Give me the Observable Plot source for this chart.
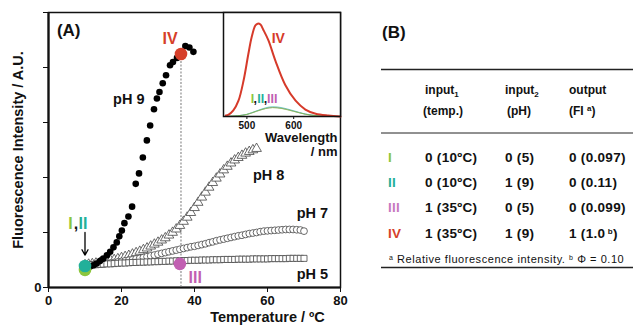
<!DOCTYPE html>
<html><head><meta charset="utf-8">
<script src="https://cdn.jsdelivr.net/npm/d3@7"></script>
<script src="https://cdn.jsdelivr.net/npm/@observablehq/plot@0.6"></script>
<style>
body{margin:0;background:#fff;}
#wrap{position:relative;width:633px;height:327px;font-family:"Liberation Sans",Arial,sans-serif;overflow:hidden;}
#wrap svg{overflow:visible;}
</style></head><body><div id="wrap"></div>
<script>
// ---------- DATA ----------
// pH 9 (filled circles)
const T9 = [10.3,11.4,12.3,13.2,14.1,15.0,16.0,16.9,17.8,18.7,19.4,20.1,20.8,21.9,22.9,23.9,24.8,25.85,26.95,27.85,28.9,29.7,30.4,31.3,32.2,33.3,34.1,35.2,36.3,37.5,38.6,39.7];
const V9 = [0.078,0.076,0.081,0.087,0.096,0.105,0.117,0.130,0.146,0.164,0.186,0.207,0.234,0.258,0.294,0.377,0.415,0.473,0.535,0.589,0.648,0.687,0.711,0.743,0.772,0.808,0.820,0.835,0.849,0.878,0.873,0.857];
// pH 8 (open triangles)
const T8 = [10,11,12,13,14,15,16,17,18,19,20,21,22,23,24,25,26,27,28,29,30,31,32,33,34,35,36,37,38,39,40,41,42,43,44,45,46,47,48,49,50,51,52,53,54,55,56,57];
const V8 = [0.082,0.084,0.086,0.088,0.090,0.092,0.095,0.098,0.101,0.104,0.108,0.112,0.116,0.121,0.126,0.131,0.137,0.143,0.150,0.157,0.164,0.172,0.180,0.190,0.200,0.212,0.225,0.240,0.255,0.272,0.290,0.309,0.328,0.346,0.364,0.381,0.397,0.412,0.427,0.440,0.452,0.463,0.472,0.480,0.488,0.494,0.500,0.505];
// pH 7 (open circles)
const T7 = [10,11,12,13,14,15,16,17,18,19,20,21,22,23,24,25,26,27,28,29,30,31,32,33,34,35,36,37,38,39,40,41,42,43,44,45,46,47,48,49,50,51,52,53,54,55,56,57,58,59,60,61,62,63,64,65,66,67,68,69,70];
const V7 = [0.082,0.082,0.083,0.084,0.085,0.086,0.088,0.089,0.091,0.093,0.095,0.097,0.099,0.101,0.104,0.106,0.109,0.112,0.115,0.118,0.121,0.124,0.127,0.130,0.133,0.136,0.139,0.142,0.145,0.148,0.150,0.153,0.156,0.159,0.163,0.166,0.170,0.173,0.176,0.179,0.182,0.185,0.188,0.190,0.193,0.196,0.198,0.200,0.203,0.205,0.206,0.207,0.208,0.209,0.210,0.211,0.211,0.211,0.210,0.209,0.205];
// pH 5 (open squares)
const T5 = [10,11,12,13,14,15,16,17,18,19,20,21,22,23,24,25,26,27,28,29,30,31,32,33,34,35,36,37,38,39,40,41,42,43,44,45,46,47,48,49,50,51,52,53,54,55,56,57,58,59,60,61,62,63,64,65,66,67,68,69,70];
const V5 = [0.080,0.081,0.082,0.083,0.084,0.085,0.086,0.086,0.087,0.088,0.089,0.089,0.090,0.091,0.091,0.092,0.092,0.093,0.093,0.094,0.094,0.095,0.095,0.096,0.096,0.097,0.097,0.098,0.098,0.099,0.099,0.099,0.100,0.100,0.100,0.101,0.101,0.101,0.102,0.102,0.102,0.102,0.103,0.103,0.103,0.103,0.104,0.104,0.104,0.104,0.104,0.105,0.105,0.105,0.105,0.105,0.106,0.106,0.106,0.106,0.106];
// logic states I..IV on the main chart
const stateNames = ["I","II","III","IV"];
const stateT = [10,10,36,36.3];
const stateV = [0.064,0.078,0.086,0.849];
const stateColors = ["#8cc63e","#22b09a","#c15fb2","#d63f2a"];
// axes ticks
const xTicks = [0,20,40,60,80];
const yTicks = [0,0.2,0.4,0.6,0.8,1.0];
// inset emission spectra
const wlIV = [455,461,471,482,493,503,510,518,523,529,535,546,561,582,604,625,647,674,700];
const fIV  = [0.01,0.02,0.065,0.17,0.39,0.67,0.85,0.98,1.0,0.99,0.935,0.82,0.6,0.34,0.17,0.075,0.03,0.01,0.0];
const wlSmall = [455,480,500,520,540,555,575,600,625,650,680,700];
const fI   = [0.002,0.008,0.022,0.055,0.085,0.095,0.085,0.055,0.024,0.008,0.002,0.0];
const fII  = [0.002,0.008,0.024,0.060,0.094,0.106,0.095,0.062,0.027,0.009,0.002,0.0];
const fIII = [0.002,0.008,0.022,0.056,0.087,0.097,0.088,0.057,0.025,0.008,0.002,0.0];
const insetTicks = [500,600];
// table
const tableRows = ["I","II","III","IV"];
const input1 = ["0 (10ºC)","0 (10ºC)","1 (35ºC)","1 (35ºC)"];
const input2 = ["0 (5)","1 (9)","0 (5)","1 (9)"];
const outputFI = ["0 (0.097)","0 (0.11)","0 (0.099)","1 (1.0"];
const tableColors = ["#8cc63e","#22b09a","#c77ac0","#d63f2a"];

// ---------- BUILD ----------
const zip = (a,b) => a.map((x,i)=>({x, y:b[i]}));
const d9 = zip(T9,V9), d8 = zip(T8,V8), d7 = zip(T7,V7), d5 = zip(T5,V5);
const states = stateNames.map((n,i)=>({n, x:stateT[i], y:stateV[i], c:stateColors[i]}));
const FONT = '"Liberation Sans", Arial, sans-serif';

const main = Plot.plot({
  width: 633, height: 327,
  marginLeft: 48, marginRight: 293, marginTop: 12, marginBottom: 40,
  x: {domain:[0,80], ticks: xTicks, tickFormat: d=>String(d), tickSize: 5, tickPadding: 3, label: null},
  y: {domain:[0,1], ticks: yTicks, tickFormat: d => d===0 ? "0" : "", tickSize: 5, tickPadding: 2, label: null},
  style: {fontFamily: FONT, fontSize: "13px", fontWeight: "bold", color:"#111", background:"transparent", overflow:"visible"},
  marks: [
    Plot.frame({stroke:"#111", strokeWidth:1.5}),
    Plot.ruleX([0], {stroke:"#111", strokeWidth:2.2}),
    Plot.ruleY([0], {stroke:"#111", strokeWidth:2.2}),
    Plot.ruleX([states[3]], {x:"x", y1:0, y2:"y", stroke:"#777", strokeWidth:1, strokeDasharray:"2,1.5"}),
    Plot.dot(d8, {x:"x", y:"y", symbol:"triangle", r:3.6, stroke:"#444", fill:"white", strokeWidth:0.8}),
    Plot.dot(d7, {x:"x", y:"y", symbol:"circle", r:3.4, stroke:"#444", fill:"white", strokeWidth:0.8}),
    Plot.dot(d5, {x:"x", y:"y", symbol:"square", r:3.4, stroke:"#444", fill:"white", strokeWidth:0.8}),
    Plot.dot(d9, {x:"x", y:"y", r:3.3, fill:"#000", stroke:"none"}),
    Plot.dot(states, {x:"x", y:"y", r:6.3, fill:"c", stroke:"none"}),
    Plot.arrow([{x1:10,y1:0.2,x2:10,y2:0.118}], {x1:"x1",y1:"y1",x2:"x2",y2:"y2", stroke:"#000", strokeWidth:1.3, headLength:7, inset:0}),
    // labels
    Plot.text([{t:"(A)", x:2.3, y:0.935}], {x:"x", y:"y", text:"t", textAnchor:"start", fontSize:17, fontWeight:"bold", fill:"#111"}),
    Plot.text([{t:"pH 9",x:22,y:0.684},{t:"pH 8",x:60.3,y:0.407},{t:"pH 7",x:72.3,y:0.268},{t:"pH 5",x:72.3,y:0.049}],
      {x:"x", y:"y", text:"t", fontSize:14.5, fontWeight:"bold", fill:"#111"}),
    Plot.text([{t:"IV",x:33.3,y:0.903,c:stateColors[3]},{t:"III",x:40.2,y:0.035,c:stateColors[2]}],
      {x:"x", y:"y", text:"t", fill:"c", fontSize:16, fontWeight:"bold"}),
    Plot.text([{t:"I",x:5.4,c:stateColors[0]},{t:",",x:6.9,c:"#111"},{t:"II",x:8.2,c:stateColors[1]}],
      {x:"x", y:()=>0.232, text:"t", fill:"c", textAnchor:"start", fontSize:16, fontWeight:"bold"}),
    Plot.text([{t:"Fluorescence Intensity / A.U."}], {text:"t", frameAnchor:"left", textAnchor:"middle", lineAnchor:"middle", rotate:-90, dx:-30, fontSize:14.5, fontWeight:"bold", fill:"#111"}),
    Plot.text([{t:"Temperature / ºC", x:60}], {x:"x", text:"t", frameAnchor:"bottom", lineAnchor:"middle", dy:30, fontSize:14.5, fontWeight:"bold", fill:"#111"})
  ]
});
main.style.position = "absolute"; main.style.left = "0px"; main.style.top = "0px";
document.getElementById("wrap").appendChild(main);

// inset
const lineIV = zip(wlIV, fIV), lI = zip(wlSmall,fI), lII = zip(wlSmall,fII), lIII = zip(wlSmall,fIII);
const inset = Plot.plot({
  width: 119, height: 145, marginLeft:1, marginRight:1, marginTop:1, marginBottom:40,
  x: {domain:[450,700]}, y: {domain:[0,1.12], axis:null},
  style: {fontFamily: FONT, fontWeight:"bold", color:"#111", background:"transparent", overflow:"visible"},
  marks: [
    Plot.frame({fill:"white", stroke:null}),
    Plot.line(lIII, {x:"x", y:"y", stroke:"#9a8fb8", strokeWidth:1, curve:"catmull-rom"}),
    Plot.line(lII, {x:"x", y:"y", stroke:"#22b09a", strokeWidth:0.8, curve:"catmull-rom", strokeOpacity:0.7}),
    Plot.line(lI, {x:"x", y:"y", stroke:"#8cc63e", strokeWidth:0.9, curve:"catmull-rom", strokeOpacity:0.8}),
    Plot.line(lineIV, {x:"x", y:"y", stroke:"#d63a2a", strokeWidth:2, curve:"catmull-rom"}),
    Plot.frame({stroke:"#111", strokeWidth:1.5}),
    Plot.axisX({ticks: insetTicks, tickSize:3, tickPadding:2, fontSize:10, fontWeight:"bold", label:null}),
    Plot.text([{t:"IV", x:567, y:0.84}], {x:"x", y:"y", text:"t", fill:"#d63a2a", fontSize:14, fontWeight:"bold"}),
    Plot.text([{t:"I",x:508,c:stateColors[0]},{t:",",x:514,c:"#111"},{t:"II",x:522,c:stateColors[1]},{t:",",x:536,c:"#111"},{t:"III",x:543,c:stateColors[2]}],
      {x:"x", y:()=>0.19, text:"t", fill:"c", textAnchor:"start", fontSize:12.5, fontWeight:"bold"}),
    Plot.text([{t:"Wavelength"}], {text:"t", frameAnchor:"bottom-right", textAnchor:"end", lineAnchor:"middle", dx:-3, dy:21, fontSize:13, fontWeight:"bold", fill:"#111"}),
    Plot.text([{t:"/ nm"}], {text:"t", frameAnchor:"bottom-right", textAnchor:"end", lineAnchor:"middle", dx:-3, dy:35, fontSize:13, fontWeight:"bold", fill:"#111"})
  ]
});
inset.style.position = "absolute"; inset.style.left = "222px"; inset.style.top = "11px";
document.getElementById("wrap").appendChild(inset);

// table (B)
const svg = d3.select("#wrap").append("svg")
  .attr("width",633).attr("height",327)
  .style("position","absolute").style("left","0px").style("top","0px")
  .style("font-family", FONT).style("pointer-events","none");
const col = {roman:388, c1:425, c2:505, c3:569};
svg.append("text").attr("x",382).attr("y",38).attr("font-size",17).attr("font-weight","bold").attr("fill","#111").text("(B)");
[[69.5,1.6],[133,1],[267.5,1.6]].forEach(([y,w])=>svg.append("line").attr("x1",381).attr("x2",633).attr("y1",y).attr("y2",y).attr("stroke","#222").attr("stroke-width",w));
const hdr = svg.append("g").attr("font-size",12).attr("font-weight","bold").attr("fill","#111");
function sub(parent,x,y,main,s,shift){const t=parent.append("text").attr("x",x).attr("y",y);t.append("tspan").text(main);t.append("tspan").attr("font-size",8).attr("dy",shift).text(s);return t;}
sub(hdr,col.c1,94,"input","1",3);
sub(hdr,col.c2,94,"input","2",3);
hdr.append("text").attr("x",col.c3).attr("y",94).text("output");
hdr.append("text").attr("x",col.c1-2).attr("y",115).text("(temp.)");
hdr.append("text").attr("x",col.c2+2).attr("y",115).text("(pH)");
{const t=hdr.append("text").attr("x",col.c3).attr("y",115);t.append("tspan").text("(FI ");t.append("tspan").attr("font-size",8).attr("dy",-4).text("a");t.append("tspan").attr("dy",4).text(")");}
const rowY = [161.5,186.5,211.5,237.5];
tableRows.forEach((r,i)=>{
  const g = svg.append("g").attr("font-size",13.5).attr("font-weight","bold").attr("fill","#111").attr("letter-spacing","0.3px");
  g.append("text").attr("x",col.roman).attr("y",rowY[i]).attr("fill",tableColors[i]).text(r);
  g.append("text").attr("x",col.c1).attr("y",rowY[i]).text(input1[i]);
  g.append("text").attr("x",col.c2).attr("y",rowY[i]).text(input2[i]);
  const t = g.append("text").attr("x",col.c3).attr("y",rowY[i]);
  t.append("tspan").text(outputFI[i]);
  if(i===3){t.append("tspan").attr("font-size",8).attr("dy",-4).text(" b");t.append("tspan").attr("dy",4).text(")");}
});
{const t = svg.append("text").attr("x",389).attr("y",262.5).attr("font-size",11).attr("letter-spacing","0.55px").attr("fill","#111");
 t.append("tspan").attr("font-size",7).attr("dy",-3).text("a");
 t.append("tspan").attr("dy",3).text(" Relative fluorescence intensity. ");
 t.append("tspan").attr("font-size",7).attr("dy",-3).text("b");
 t.append("tspan").attr("dy",3).text(" Φ = 0.10");}
</script></body></html>
